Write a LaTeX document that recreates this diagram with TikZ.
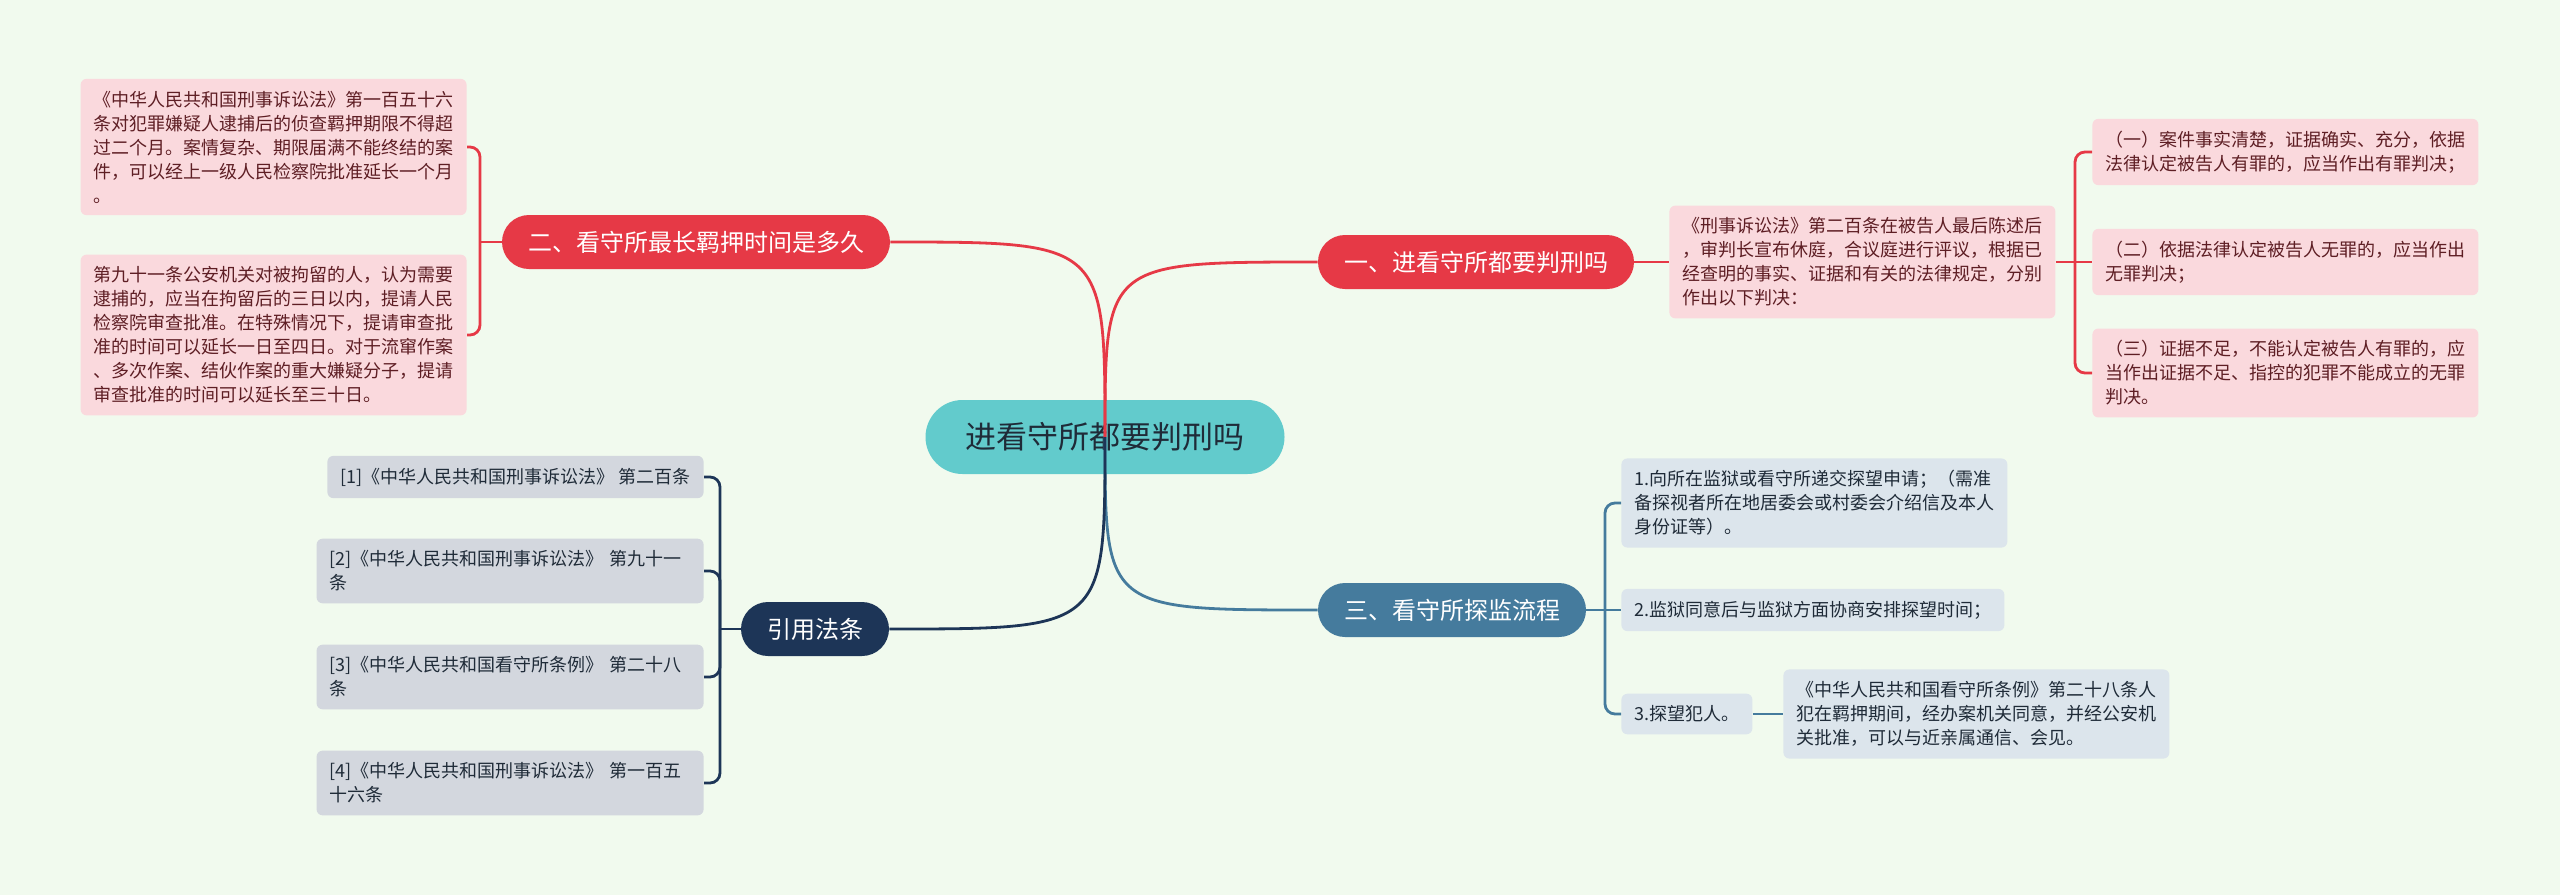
\documentclass[tikz,border=0pt]{standalone}
\usepackage{fontspec}
\setmainfont{Noto Sans CJK SC}
\definecolor{bgc}{HTML}{F1FAEE}
\definecolor{rootc}{HTML}{62CBCC}
\definecolor{redc}{HTML}{E63946}
\definecolor{bluec}{HTML}{457B9D}
\definecolor{navyc}{HTML}{1D3557}
\definecolor{pinkfill}{HTML}{FAD9DD}
\definecolor{bluefill}{HTML}{DCE5EC}
\definecolor{greyfill}{HTML}{D3D7DE}
\definecolor{pinktext}{HTML}{5E1E24}
\definecolor{darktext}{HTML}{1F2B38}
\begin{document}
\begin{tikzpicture}[x=0.5pt,y=-0.5pt,
  topic/.style={rounded corners=13.5pt,minimum height=27pt,inner xsep=13pt,inner ysep=0pt,text=white,font=\fontsize{12}{14}\selectfont},
  leaf/.style={rounded corners=3pt,align=left,inner xsep=6.5pt,inner ysep=6pt,font=\fontsize{9}{12}\selectfont},
  redleaf/.style={leaf,fill=pinkfill,text=pinktext},
  blueleaf/.style={leaf,fill=bluefill,text=darktext},
  greyleaf/.style={leaf,fill=greyfill,text=darktext},
  wideleaf/.style={text width=180.5pt},
  link/.style={line width=1.4pt},
  bracket/.style={link,rounded corners=5pt}]
 \path[use as bounding box,fill=bgc] (0,0) rectangle (2560,895);
 \node[fill=rootc,text=darktext,rounded corners=18.5pt,minimum height=37pt,inner xsep=20pt,inner ysep=0pt,font=\fontsize{15.5}{18}\selectfont] (root) at (1105,437) {进看守所都要判刑吗};
 \node[topic,fill=redc] (b1) at (1476,262) {一、进看守所都要判刑吗};
 \node[topic,fill=redc] (b2) at (696,242) {二、看守所最长羁押时间是多久};
 \node[topic,fill=bluec] (b3) at (1452,610) {三、看守所探监流程};
 \node[topic,fill=navyc] (b4) at (815,629) {引用法条};
 % branch one
 \node[redleaf,anchor=west] (c1) at (1669,262) {《刑事诉讼法》第二百条在被告人最后陈述后\\，审判长宣布休庭，合议庭进行评议，根据已\\经查明的事实、证据和有关的法律规定，分别\\作出以下判决：};
 \node[redleaf,anchor=west] (k1) at (2092,152) {（一）案件事实清楚，证据确实、充分，依据\\法律认定被告人有罪的，应当作出有罪判决；};
 \node[redleaf,anchor=west] (k2) at (2092,262) {（二）依据法律认定被告人无罪的，应当作出\\无罪判决；};
 \node[redleaf,anchor=west] (k3) at (2092,373) {（三）证据不足，不能认定被告人有罪的，应\\当作出证据不足、指控的犯罪不能成立的无罪\\判决。};
 % branch two
 \node[redleaf,anchor=east] (l21) at (467,147) {《中华人民共和国刑事诉讼法》第一百五十六\\条对犯罪嫌疑人逮捕后的侦查羁押期限不得超\\过二个月。案情复杂、期限届满不能终结的案\\件，可以经上一级人民检察院批准延长一个月\\。};
 \node[redleaf,anchor=east] (l22) at (467,335) {第九十一条公安机关对被拘留的人，认为需要\\逮捕的，应当在拘留后的三日以内，提请人民\\检察院审查批准。在特殊情况下，提请审查批\\准的时间可以延长一日至四日。对于流窜作案\\、多次作案、结伙作案的重大嫌疑分子，提请\\审查批准的时间可以延长至三十日。};
 % branch three
 \node[blueleaf,anchor=west] (m1) at (1621,503) {1.向所在监狱或看守所递交探望申请；（需准\\备探视者所在地居委会或村委会介绍信及本人\\身份证等）。};
 \node[blueleaf,anchor=west] (m2) at (1621,610) {2.监狱同意后与监狱方面协商安排探望时间；};
 \node[blueleaf,anchor=west] (m3) at (1621,714) {3.探望犯人。};
 \node[blueleaf,anchor=west] (m4) at (1783,714) {《中华人民共和国看守所条例》第二十八条人\\犯在羁押期间，经办案机关同意，并经公安机\\关批准，可以与近亲属通信、会见。};
 % branch four
 \node[greyleaf,anchor=east] (r1) at (704,477) {[1]《中华人民共和国刑事诉讼法》 第二百条};
 \node[greyleaf,wideleaf,anchor=east] (r2) at (704,571) {[2]《中华人民共和国刑事诉讼法》 第九十一\\条};
 \node[greyleaf,wideleaf,anchor=east] (r3) at (704,677) {[3]《中华人民共和国看守所条例》 第二十八\\条};
 \node[greyleaf,wideleaf,anchor=east] (r4) at (704,783) {[4]《中华人民共和国刑事诉讼法》 第一百五\\十六条};
 \coordinate (s1) at (2075,262);
 \coordinate (s2) at (480,242);
 \coordinate (s3) at (1605,610);
 \coordinate (s4) at (720,629);
 \draw[link,redc] (root.center) .. controls (root.center |- b1.west) .. (b1.west);
 \draw[link,redc] (root.center) .. controls (root.center |- b2.east) .. (b2.east);
 \draw[link,bluec] (root.center) .. controls (root.center |- b3.west) .. (b3.west);
 \draw[link,navyc] (root.center) .. controls (root.center |- b4.east) .. (b4.east);
 \draw[link,redc] (b1.east) -- (c1.west);
 \draw[link,redc] (c1.east) -- (s1) -- (k2.west);
 \draw[bracket,redc] (k1.west) -| (s1) |- (k3.west);
 \draw[link,redc] (b2.west) -- (s2);
 \draw[bracket,redc] (l21.east) -| (s2) |- (l22.east);
 \draw[link,bluec] (b3.east) -- (s3) -- (m2.west);
 \draw[bracket,bluec] (m1.west) -| (s3) |- (m3.west);
 \draw[link,bluec] (m3.east) -- (m4.west);
 \draw[link,navyc] (b4.west) -- (s4);
 \draw[bracket,navyc] (r1.east) -| (s4) |- (r4.east);
 \draw[bracket,navyc] (r2.east) -| (s4);
 \draw[bracket,navyc] (r3.east) -| (s4);
\end{tikzpicture}
\end{document}
